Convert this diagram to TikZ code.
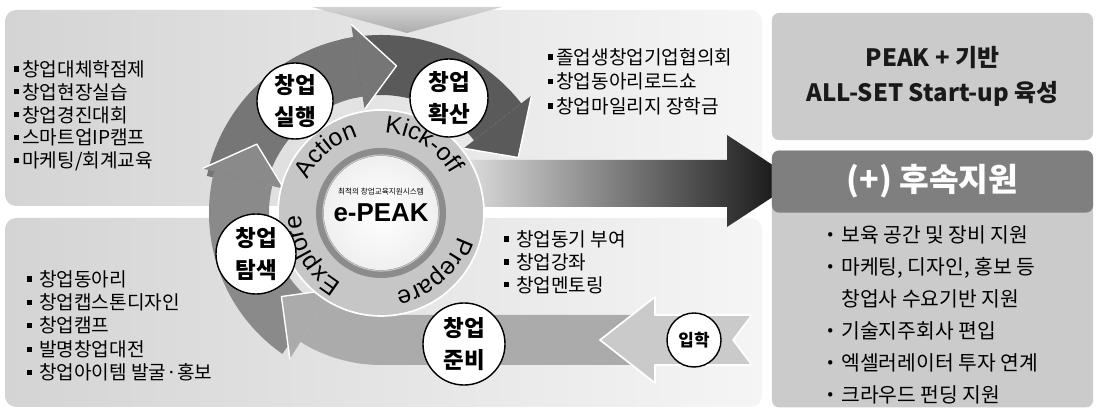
\documentclass[tikz,border=0pt]{standalone}
\usepackage{fontspec}
\setmainfont{Noto Sans CJK KR}
\newfontfamily\latfont{Liberation Sans}
\usetikzlibrary{positioning,calc,decorations.text}

\definecolor{panelL}{HTML}{D4D4D4}
\definecolor{panelR}{HTML}{F5F5F5}
\definecolor{boxG}{HTML}{CBCBCB}
\definecolor{hdrG}{HTML}{7F7F7F}
\definecolor{bandR}{HTML}{5A5A5A}
\definecolor{bandT}{HTML}{767676}
\definecolor{bandL}{HTML}{8A8A8A}
\definecolor{bandB}{HTML}{ABABAB}
\definecolor{arrowIn}{HTML}{CACACA}
\definecolor{ringG}{HTML}{C6C6C6}
\definecolor{ringD}{HTML}{8C8C8C}

\newcommand{\sqb}{\rule[0.24em]{0.27em}{0.27em}}
\newcommand{\ringfont}{\latfont\fontsize{17.5}{17.5}\selectfont}

\begin{document}
\begin{tikzpicture}[x=0.025cm, y=0.025cm,
					panel/.style={rounded corners=8pt,
					left color=panelL,
					right color=panelR},
					rbox/.style={rectangle,
					rounded corners=5pt,
					fill=boxG,
					minimum width=8.025cm,
					inner sep=0pt},
					stepcirc/.style={circle,
					draw=black,
					line width=1pt,
					fill=white,
					inner sep=0pt,
					align=center,
					font=\bfseries\fontsize{16}{22.7}\selectfont},
					listtxt/.style={anchor=north west,
					align=left,
					inner sep=0pt,
					font=\fontsize{13.6}{16.3}\selectfont},
					headline/.style={white, line width=1pt, line join=round},
					ringtext/.style={decorate}
					]

\useasboundingbox (0,0) rectangle (1099,-411);

% background panels
\shade[panel] (5,-10) rectangle (762,-206);
\shade[panel] (5,-218) rectangle (762,-407);

% wedge at the top
\shade[top color=gray!35, bottom color=gray!65] (312,-7) -- (502,-7) -- (407,-33) -- cycle;

% big arrow to the right boxes
\shade[left color=gray!15, right color=black!95] (440,-160) -- (727,-160) -- (727,-135) -- (797,-181) -- (727,-227) -- (727,-207) -- (440,-207) -- cycle;

\coordinate (C) at (381,-213);

% cycle arrows
\fill[bandR] ($(C)+(103:178)$) arc[start angle=103, end angle=38, radius=178] -- ($(C)+(38:118)$) arc[start angle=38, end angle=103, radius=118] -- cycle;
\fill[bandR] ($(C)+(38:191)$) -- ($(C)+(22:148)$) -- ($(C)+(38:105)$) -- cycle;
\draw[headline] ($(C)+(38:191)$) -- ($(C)+(22:148)$) -- ($(C)+(38:105)$);

\fill[bandT] ($(C)+(168:178)$) arc[start angle=168, end angle=99, radius=178] -- ($(C)+(99:118)$) arc[start angle=99, end angle=168, radius=118] -- cycle;
\fill[bandT] ($(C)+(99:191)$) -- ($(C)+(84:148)$) -- ($(C)+(99:105)$) -- cycle;
\draw[headline] ($(C)+(99:191)$) -- ($(C)+(84:148)$) -- ($(C)+(99:105)$);

\fill[bandL] ($(C)+(-125:172)$) arc[start angle=-125, end angle=-194, radius=172] -- ($(C)+(-194:112)$) arc[start angle=-194, end angle=-125, radius=112] -- cycle;
\fill[bandL] ($(C)+(-194:184)$) -- ($(C)+(-209:142)$) -- ($(C)+(-194:100)$) -- cycle;
\draw[headline] ($(C)+(-194:184)$) -- ($(C)+(-209:142)$) -- ($(C)+(-194:100)$);

\fill[bandB] (632,-315) -- ($(C)+(-90:102)$) arc[start angle=-90, end angle=-122, radius=102] -- ($(C)+(-122:152)$) arc[start angle=-122, end angle=-90, radius=152] -- (632,-365) -- (604,-340) -- cycle;
\fill[bandB] ($(C)+(-122:90)$) -- ($(C)+(-140:130)$) -- ($(C)+(-122:172)$) -- cycle;
\draw[headline] ($(C)+(-122:90)$) -- ($(C)+(-140:130)$) -- ($(C)+(-122:172)$);

% arrow coming in from the right
\path[fill=arrowIn, draw=white, line width=1.2pt, line join=round] (600,-340) -- (655,-297) -- (655,-315) -- (752,-315) -- (733,-340) -- (752,-365) -- (655,-365) -- (655,-383) -- cycle;

% centre ring
\fill[ringG, draw=white, line width=1.2pt] (C) circle[radius=103];
\draw[ringD, line width=5.7pt] (C) circle[radius=61];
\shade[inner color=white, outer color=gray!12] (C) circle[radius=57];
\draw[gray!45, line width=0.8pt] (C) circle[radius=58];

\path[ringtext, decoration={text along path, text align=center, text={|\ringfont|Action}}] ($(C)+(175:80)$) arc[start angle=175, end angle=87, radius=80];
\path[ringtext, decoration={text along path, text align=center, text={|\ringfont|Kick-off}}] ($(C)+(102:80)$) arc[start angle=102, end angle=14, radius=80];
\path[ringtext, decoration={text along path, text align=center, text={|\ringfont|Prepare}}] ($(C)+(-4:80)$) arc[start angle=-4, end angle=-92, radius=80];
\path[ringtext, decoration={text along path, text align=center, text={|\ringfont|Explore}}] ($(C)+(255:80)$) arc[start angle=255, end angle=167, radius=80];

\node[font=\fontsize{5.4}{6}\selectfont] (subtitle) at (381,-192) {최적의 창업교육지원시스템};
\node[font=\latfont\bfseries\fontsize{18.4}{20}\selectfont] (epeak) at (381,-213) {e-PEAK};

% step circles
\node[stepcirc, minimum size=1.9cm]  (silhaeng) at (295,-101) {창업\\실행};
\node[stepcirc, minimum size=1.95cm] (hwaksan)  at (449,-98)  {창업\\확산};
\node[stepcirc, minimum size=2.0cm]  (tamsaek)  at (256,-254) {창업\\탐색};
\node[stepcirc, minimum size=2.05cm] (junbi)    at (464,-344) {창업\\준비};
\node[stepcirc, minimum size=1.35cm, font=\bfseries\fontsize{12}{14}\selectfont] (iphak) at (694,-340) {입학};

% program lists
\node[listtxt] (actlist) at (14,-60) {\sqb\hspace{0.15em}창업대체학점제\\
\sqb\hspace{0.15em}창업현장실습\\
\sqb\hspace{0.15em}창업경진대회\\
\sqb\hspace{0.15em}스마트업IP캠프\\
\sqb\hspace{0.15em}마케팅/회계교육};

\node[listtxt, font=\fontsize{13.6}{17.4}\selectfont] (spreadlist) at (548,-48) {\sqb\hspace{0.15em}졸업생창업기업협의회\\
\sqb\hspace{0.15em}창업동아리로드쇼\\
\sqb\hspace{0.15em}창업마일리지 장학금};

\node[listtxt, font=\fontsize{13.6}{16.65}\selectfont] (explist) at (27,-270) {\sqb\hspace{0.35em}창업동아리\\
\sqb\hspace{0.35em}창업캡스톤디자인\\
\sqb\hspace{0.35em}창업캠프\\
\sqb\hspace{0.35em}발명창업대전\\
\sqb\hspace{0.35em}창업아이템 발굴·홍보};

\node[listtxt] (preplist) at (504,-230) {\sqb\hspace{0.35em}창업동기 부여\\
\sqb\hspace{0.35em}창업강좌\\
\sqb\hspace{0.35em}창업멘토링};

% right boxes
\node[rbox, minimum height=3.175cm, align=center, text=black!90, font=\bfseries\fontsize{17}{24.8}\selectfont] (peakbox) at (932.5,-76.5) {PEAK + 기반\\ALL-SET Start-up 육성};
\node[rbox, minimum height=6.425cm, anchor=north] (supbox) at (932.5,-150) {};
\node[rbox, fill=hdrG, minimum height=1.55cm, text=white, font=\bfseries\fontsize{23}{25}\selectfont] (hdr) [below=0.25cm of peakbox] {(+) 후속지원};

\node[listtxt, font=\fontsize{14.5}{22.8}\selectfont] (suplist) at (824,-225) {{\bfseries·}\ 보육 공간 및 장비 지원\\
{\bfseries·}\ 마케팅, 디자인, 홍보 등\\
\phantom{{\bfseries·}\ }창업사 수요기반 지원\\
{\bfseries·}\ 기술지주회사 편입\\
{\bfseries·}\ 엑셀러레이터 투자 연계\\
{\bfseries·}\ 크라우드 펀딩 지원};

\end{tikzpicture}
\end{document}
